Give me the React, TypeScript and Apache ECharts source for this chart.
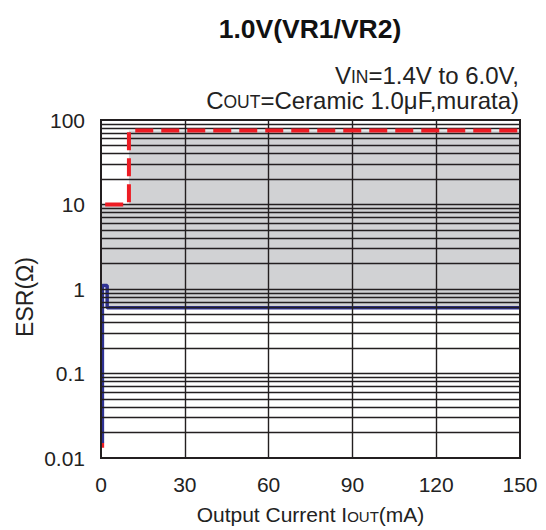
import React, { useEffect, useRef } from "react";
import * as echarts from "echarts";

// ---- data ----
const xTicks = [0, 30, 60, 90, 120, 150];
const yTicks = [0.01, 0.1, 1, 10, 100];
// upper ESR limit (red dashed)
const upperLimit = [
  [1.5, 10],
  [10, 10],
  [10, 75],
  [150, 75],
];
// lower ESR limit (blue)
const lowerLimit = [
  [0.5, 0.015],
  [0.5, 1.1],
  [2.2, 1.1],
  [2.2, 0.6],
  [150, 0.6],
];
// small red tip below the blue line at the bottom
const upperTip = [
  [0.5, 0.0132],
  [0.5, 0.0152],
];
// stable region (gray)
const stableRegion = [
  [0, 10],
  [10, 10],
  [10, 75],
  [150, 75],
  [150, 0.6],
  [2.2, 0.6],
  [2.2, 1.1],
  [0, 1.1],
];
const minorMultipliers = [1, 2, 3, 4, 5, 6, 7, 8, 9];
const decades = [0.01, 0.1, 1, 10];

const FONT = "'Liberation Sans', Arial, Helvetica, sans-serif";
const GRID_COLOR = "#231f20";
const GRAY = "#d1d2d4";
const RED = "#ed1c24";
const BLUE = "#2e3192";
const TEXT = "#222";

export default function App() {
  const ref = useRef<HTMLDivElement>(null);
  useEffect(() => {
    if (!ref.current) return;
    const chart = echarts.init(ref.current, undefined, { renderer: "svg" });

    const hLines: any[] = [];
    decades.forEach((d) => {
      minorMultipliers.forEach((m) => {
        const v = +(d * m).toPrecision(3);
        if (v > 0.01 && v < 100) hLines.push({ yAxis: v });
      });
    });
    const vLines = xTicks
      .filter((v) => v > xTicks[0] && v < xTicks[xTicks.length - 1])
      .map((v) => ({ xAxis: v }));
    const borderStyle = { color: GRID_COLOR, width: 2 };
    const borders = [
      { xAxis: xTicks[0], lineStyle: borderStyle },
      { xAxis: xTicks[xTicks.length - 1], lineStyle: borderStyle },
      { yAxis: yTicks[0], lineStyle: borderStyle },
      { yAxis: yTicks[yTicks.length - 1], lineStyle: borderStyle },
    ];

    const fmt = (v: number) => String(parseFloat(Number(v).toPrecision(3)));
    const sub = (size: number) => ({
      fontSize: size,
      fontFamily: FONT,
      color: TEXT,
      fill: TEXT,
      verticalAlign: "bottom",
      padding: [0, 0, 1, 0],
    });

    chart.setOption({
      animation: false,
      backgroundColor: "#ffffff",
      textStyle: { fontFamily: FONT },
      grid: {
        left: 101,
        right: 26,
        top: 120,
        bottom: 72,
        show: true,
        borderColor: GRID_COLOR,
        borderWidth: 2,
        backgroundColor: "transparent",
      },
      title: {
        text: "1.0V(VR1/VR2)",
        left: 305,
        top: 10,
        textAlign: "center",
        textStyle: {
          fontFamily: FONT,
          fontSize: 26.5,
          fontWeight: "bold",
          color: "#111",
        },
      },
      xAxis: {
        type: "value",
        min: xTicks[0],
        max: xTicks[xTicks.length - 1],
        interval: 30,
        axisLine: { show: false },
        axisTick: { show: false },
        splitLine: { show: false },
        axisLabel: {
          fontFamily: FONT,
          fontSize: 21,
          color: TEXT,
          margin: 16,
        },
        name: "Output Current I{s|OUT}(mA)",
        nameLocation: "middle",
        nameGap: 46,
        nameTextStyle: {
          fontFamily: FONT,
          fontSize: 21,
          color: TEXT,
          verticalAlign: "top",
          rich: { s: sub(15) },
        },
      },
      yAxis: {
        type: "log",
        logBase: 10,
        min: yTicks[0],
        max: yTicks[yTicks.length - 1],
        axisLine: { show: false },
        axisTick: { show: false },
        splitLine: { show: false },
        axisLabel: {
          fontFamily: FONT,
          fontSize: 21,
          color: TEXT,
          margin: 16,
          formatter: fmt,
        },
      },
      graphic: [
        {
          type: "text",
          x: 25,
          y: 297,
          rotation: Math.PI / 2,
          style: {
            text: "ESR(Ω)",
            font: `23px ${FONT}`,
            fill: TEXT,
            align: "center",
            verticalAlign: "middle",
          },
        },
        {
          type: "text",
          right: 27,
          top: 63,
          style: {
            text: "V{s|IN}=1.4V to 6.0V,",
            font: `24px ${FONT}`,
            fill: TEXT,
            align: "right",
            rich: { s: sub(17.5) },
          },
        },
        {
          type: "text",
          right: 27,
          top: 88,
          style: {
            text: "C{s|OUT}=Ceramic 1.0μF,murata)",
            font: `24px ${FONT}`,
            fill: TEXT,
            align: "right",
            rich: { s: sub(17.5) },
          },
        },
      ],
      series: [
        {
          type: "custom",
          z: 1,
          silent: true,
          data: [[0, 1]],
          renderItem: (params: any, api: any) => {
            const pts = stableRegion.map((p) => api.coord(p));
            return {
              type: "polygon",
              shape: { points: pts },
              style: { fill: GRAY, stroke: "none" },
            };
          },
        },
        {
          type: "line",
          z: 2,
          data: [],
          silent: true,
          markLine: {
            silent: true,
            symbol: ["none", "none"],
            label: { show: false },
            lineStyle: { color: GRID_COLOR, width: 1.4, type: "solid" },
            emphasis: { disabled: true },
            data: [...hLines, ...vLines, ...borders],
          },
        },
        {
          type: "line",
          z: 3,
          data: upperTip,
          showSymbol: false,
          symbol: "none",
          lineStyle: { color: RED, width: 3.5 },
          silent: true,
        },
        {
          type: "line",
          z: 4,
          data: lowerLimit,
          showSymbol: false,
          symbol: "none",
          lineStyle: { color: BLUE, width: 3.5 },
          silent: true,
        },
        {
          type: "line",
          z: 5,
          data: upperLimit,
          showSymbol: false,
          symbol: "none",
          lineStyle: { color: RED, width: 4, type: [18, 8] },
          silent: true,
        },
      ],
    });
    return () => chart.dispose();
  }, []);
  return (
    <div
      ref={ref}
      style={{ position: "absolute", left: 0, top: 0, width: 546, height: 530 }}
    />
  );
}
